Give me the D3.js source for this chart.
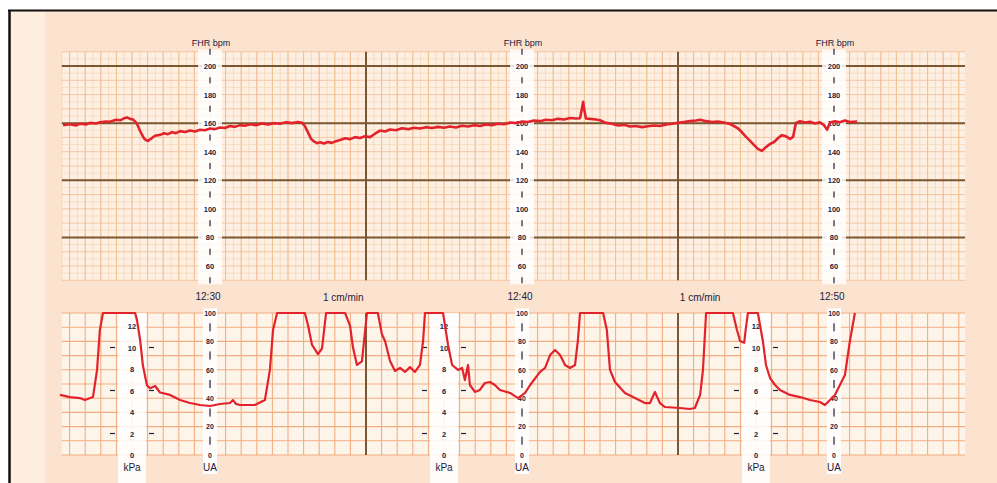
<!DOCTYPE html>
<html>
<head>
<meta charset="utf-8">
<script src="https://cdn.jsdelivr.net/npm/d3@7"></script>
<style>
  body { margin: 0; background: #fff; }
  svg text { font-family: "Liberation Sans", Arial, sans-serif; }
</style>
</head>
<body>
<div id="viz"></div>
<script>
var width = 997,
    height = 483;

// FHR trace: minutes after 12:30, beats per minute
var fhrTime = [-4.71, -4.49, -4.29, -4.17, -3.97, -3.85, -3.65, -3.53, -3.33, -3.21, -3.01, -2.88, -2.76, -2.66, -2.56, -2.47,
    -2.37, -2.31, -2.24, -2.18, -2.12, -2.05, -1.99, -1.92, -1.83, -1.73, -1.60, -1.47, -1.35, -1.22, -1.09, -0.96,
    -0.80, -0.64, -0.48, -0.32, -0.16, 0, 0.16, 0.32, 0.48, 0.64, 0.80, 0.96, 1.12, 1.28, 1.47, 1.67,
    1.86, 2.05, 2.24, 2.44, 2.63, 2.82, 2.95, 3.04, 3.14, 3.24, 3.33, 3.43, 3.53, 3.65, 3.78, 3.91,
    4.04, 4.17, 4.33, 4.49, 4.65, 4.81, 4.97, 5.13, 5.29, 5.45, 5.61, 5.77, 5.96, 6.15, 6.35, 6.54,
    6.73, 6.92, 7.12, 7.31, 7.50, 7.69, 7.88, 8.08, 8.27, 8.46, 8.65, 8.85, 9.04, 9.23, 9.42, 9.62,
    9.81, 10.00, 10.19, 10.38, 10.58, 10.77, 10.96, 11.15, 11.35, 11.54, 11.73, 11.86, 11.92, 11.96, 11.99, 12.05,
    12.18, 12.37, 12.50, 12.69, 12.88, 13.08, 13.27, 13.46, 13.65, 13.85, 14.04, 14.23, 14.42, 14.62, 14.81, 15.00,
    15.19, 15.38, 15.58, 15.71, 15.90, 16.09, 16.28, 16.47, 16.67, 16.79, 16.92, 17.05, 17.18, 17.31, 17.44, 17.56,
    17.69, 17.82, 17.95, 18.08, 18.21, 18.33, 18.46, 18.59, 18.69, 18.78, 18.91, 19.07, 19.23, 19.39, 19.55, 19.68,
    19.78, 19.87, 20.03, 20.19, 20.35, 20.51, 20.74];
var fhrBpm = [158.5, 159.2, 158.4, 159.6, 159.0, 160.2, 159.8, 160.6, 161.2, 161.0, 162.4, 162.0, 163.4, 164.0, 163.0, 162.6,
    160.5, 158.0, 154.5, 152.0, 149.5, 148.0, 147.6, 148.6, 150.2, 151.4, 151.8, 152.9, 152.3, 153.6, 153.0, 154.4,
    153.8, 154.8, 154.2, 155.4, 155.0, 156.2, 155.8, 157.0, 156.6, 158.0, 157.4, 158.6, 158.2, 159.2, 158.6, 159.8,
    159.0, 160.0, 159.6, 160.6, 160.0, 160.8, 160.2, 158.0, 153.5, 149.0, 147.2, 146.0, 146.6, 145.8, 146.8, 146.2,
    147.4, 148.2, 149.4, 148.8, 150.2, 149.6, 150.8, 150.2, 152.6, 154.8, 154.2, 155.6, 155.0, 156.4, 155.8, 156.8,
    156.2, 157.2, 156.6, 157.4, 156.8, 157.6, 157.0, 158.2, 157.6, 158.6, 158.0, 159.0, 158.6, 159.6, 159.2, 160.4,
    160.0, 161.2, 160.8, 161.8, 161.4, 162.4, 162.0, 163.0, 162.6, 163.6, 163.2, 163.4, 170.0, 175.0, 170.0, 163.2,
    163.0, 162.6, 162.0, 160.2, 159.6, 158.4, 158.8, 157.6, 158.0, 157.2, 157.8, 158.4, 158.0, 159.0, 159.6, 160.2,
    160.8, 161.4, 161.8, 162.4, 161.4, 160.8, 161.2, 160.4, 159.4, 158.0, 156.4, 153.6, 150.4, 147.6, 144.6, 142.0,
    140.6, 143.2, 145.4, 146.8, 149.6, 151.6, 150.8, 149.0, 150.4, 160.2, 161.4, 160.4, 161.0, 159.8, 160.6, 158.6,
    155.4, 160.4, 161.4, 160.6, 161.8, 160.8, 161.2];

// uterine activity trace: minutes after 12:30, UA units
var uaTime = [-4.81, -4.49, -4.17, -4.01, -3.75, -3.62, -3.53, -3.43, -2.40, -2.34, -2.24, -2.15, -2.02, -1.92, -1.76, -1.60,
    -1.28, -0.96, -0.64, -0.32, 0, 0.32, 0.64, 0.74, 0.83, 0.96, 1.44, 1.76, 1.92, 2.02, 2.15, 3.04,
    3.14, 3.27, 3.46, 3.59, 3.72, 4.33, 4.49, 4.58, 4.71, 4.87, 5.03, 5.38, 5.51, 5.61, 5.77, 5.93,
    6.09, 6.25, 6.41, 6.57, 6.73, 6.83, 6.89, 7.47, 7.53, 7.63, 7.76, 7.95, 8.08, 8.17, 8.27, 8.33,
    8.49, 8.65, 8.81, 8.97, 9.13, 9.29, 9.62, 9.87, 10.10, 10.26, 10.58, 10.74, 10.90, 11.06, 11.22, 11.38,
    11.54, 11.70, 11.79, 11.86, 12.60, 12.72, 12.82, 12.98, 13.30, 13.62, 13.94, 14.10, 14.26, 14.42, 14.58, 15.06,
    15.38, 15.54, 15.71, 15.80, 15.90, 16.76, 16.89, 16.99, 17.12, 17.18, 17.24, 17.56, 17.72, 17.82, 17.95, 18.11,
    18.27, 18.59, 18.91, 19.23, 19.55, 19.71, 19.87, 20.03, 20.19, 20.35, 20.51, 20.67];
var uaValue = [42.3, 40.8, 40.1, 38.7, 40.8, 59.9, 88, 100, 100, 95, 81, 63, 49, 47, 48.6, 44,
    42.3, 38.7, 36.6, 35.2, 34.5, 35.9, 36.6, 38.7, 36.0, 35.2, 35.2, 38.7, 59.9, 88, 100, 100,
    91.5, 77.5, 71.1, 75, 100, 100, 91, 76, 63.4, 66, 100, 100, 85, 80.3, 66.2, 59.2,
    61.3, 58.5, 61.9, 58.5, 63.4, 80.3, 100, 100, 91.5, 77.5, 63.4, 59.9, 61.3, 52.8, 63.4, 49.3,
    44.4, 45.8, 50.7, 51.4, 49.3, 45.8, 43.7, 40.1, 43.7, 49.3, 58.5, 61.3, 70.4, 73.9, 70.4, 63.4,
    61.3, 63.4, 80.3, 100, 100, 88, 59.9, 51.4, 43.7, 40.1, 36.6, 36.6, 44.4, 36.6, 33.8, 33.1,
    32.4, 33.1, 42.3, 59.9, 100, 100, 88, 80.3, 79, 90, 100, 100, 80.3, 63.4, 54.2, 49.3,
    45.8, 42.3, 40.8, 38.7, 37.3, 35.2, 38.7, 42.3, 49.3, 56.3, 80.3, 100];

var fhrTicks = [200, 180, 160, 140, 120, 100, 80, 60];
var fhrSmallTicks = [210, 190, 170, 150, 130, 110, 90, 70, 50];
var fhrBoldLines = [200, 160, 120, 80];
var uaTicks = [100, 80, 60, 40, 20, 0];
var uaSmallTicks = [90, 70, 50, 30, 10];
var kpaTicks = [12, 10, 8, 6, 4, 2, 0];
var kpaDashTicks = [10, 6, 2];
var axisTimes = [0, 10, 20];
var timeLabels = ["12:30", "12:40", "12:50"];
var kpaAxisTimes = [-2.5, 7.5, 17.5];
var markerTimes = [5, 15];
var speedLabelTimes = [3.62, 15.06];

var gridStart = -4.75, gridEnd = 24.2;

var x = d3.scaleLinear().domain([0, 20]).range([210, 834]);
var yF = d3.scaleLinear().domain([60, 200]).range([266, 66]);
var yU = d3.scaleLinear().domain([0, 100]).range([455, 313]);
var yK = d3.scaleLinear().domain([0, 12]).range([455, 326]);

var ink = "#1c2140";

var svg = d3.select("#viz").append("svg")
    .attr("width", width)
    .attr("height", height);

// paper
svg.append("rect").attr("x", 9).attr("y", 10)
    .attr("width", width - 9).attr("height", height - 10)
    .attr("fill", "#fbe3cf");
svg.append("rect").attr("x", 11).attr("y", 12)
    .attr("width", 34).attr("height", height - 12)
    .attr("fill", "#fdeee0");

// frame
svg.append("line").attr("x1", 8).attr("x2", width).attr("y1", 10.5).attr("y2", 10.5)
    .attr("stroke", "#111").attr("stroke-width", 2);
svg.append("line").attr("x1", 9.5).attr("x2", 9.5).attr("y1", 10).attr("y2", height)
    .attr("stroke", "#111").attr("stroke-width", 2.5);

var halfMinutes = d3.range(Math.ceil(gridStart * 2), Math.floor(gridEnd * 2) + 1).map(function(i) { return i / 2; });
var quarterMinutes = d3.range(Math.ceil(gridStart * 4), Math.floor(gridEnd * 4) + 1).map(function(i) { return i / 4; });

// ---- FHR grid ----
var gF = svg.append("g").attr("class", "fhr-grid");
gF.append("rect")
    .attr("x", x(gridStart)).attr("y", yF(210))
    .attr("width", x(gridEnd) - x(gridStart)).attr("height", yF(50) - yF(210))
    .attr("fill", "#fdf0e3");

gF.selectAll("line.vfine").data(quarterMinutes).enter().append("line")
    .attr("x1", function(d) { return x(d); }).attr("x2", function(d) { return x(d); })
    .attr("y1", yF(210)).attr("y2", yF(50))
    .attr("stroke", "#f7d3b5").attr("stroke-width", 0.8);
gF.selectAll("line.hfine").data(d3.range(50, 211, 5)).enter().append("line")
    .attr("x1", x(gridStart)).attr("x2", x(gridEnd))
    .attr("y1", function(d) { return yF(d); }).attr("y2", function(d) { return yF(d); })
    .attr("stroke", function(d) { return d % 10 === 0 ? "#f2bb93" : "#f8d8bd"; })
    .attr("stroke-width", 0.8);
gF.selectAll("line.vmed").data(halfMinutes).enter().append("line")
    .attr("x1", function(d) { return x(d); }).attr("x2", function(d) { return x(d); })
    .attr("y1", yF(210)).attr("y2", yF(50))
    .attr("stroke", function(d) { return d % 1 === 0 ? "#efc38a" : "#f2bb93"; })
    .attr("stroke-width", 1);
gF.selectAll("line.hbold").data(fhrBoldLines).enter().append("line")
    .attr("x1", x(gridStart)).attr("x2", x(gridEnd))
    .attr("y1", function(d) { return yF(d); }).attr("y2", function(d) { return yF(d); })
    .attr("stroke", "#7a5633").attr("stroke-width", 2);

// ---- UA grid ----
var gU = svg.append("g").attr("class", "ua-grid");
gU.append("rect")
    .attr("x", x(gridStart)).attr("y", yU(100))
    .attr("width", x(gridEnd) - x(gridStart)).attr("height", yU(0) - yU(100))
    .attr("fill", "#fef5ea");
gU.selectAll("line.h").data(d3.range(0, 101, 10)).enter().append("line")
    .attr("x1", x(gridStart)).attr("x2", x(gridEnd))
    .attr("y1", function(d) { return yU(d); }).attr("y2", function(d) { return yU(d); })
    .attr("stroke", "#f3ad80").attr("stroke-width", 1.1);
gU.selectAll("line.v").data(halfMinutes).enter().append("line")
    .attr("x1", function(d) { return x(d); }).attr("x2", function(d) { return x(d); })
    .attr("y1", yU(100)).attr("y2", yU(0))
    .attr("stroke", "#f3ad80").attr("stroke-width", 1.1);

// 5-minute markers across both panels
markerTimes.forEach(function(t) {
    svg.append("line")
        .attr("x1", x(t)).attr("x2", x(t)).attr("y1", yF(210)).attr("y2", yF(50))
        .attr("stroke", "#7a5633").attr("stroke-width", 2);
    svg.append("line")
        .attr("x1", x(t)).attr("x2", x(t)).attr("y1", yU(100)).attr("y2", yU(0))
        .attr("stroke", "#7a5633").attr("stroke-width", 2);
});

// ---- axis strips ----
axisTimes.forEach(function(t, i) {
    var cx = x(t);
    var a = svg.append("g").attr("class", "fhr-axis");
    a.append("rect").attr("x", cx - 12).attr("y", yF(210) - 2)
        .attr("width", 24).attr("height", yF(50) - yF(210) + 6)
        .attr("fill", "#fff").attr("opacity", 0.82);
    a.append("text").attr("x", cx + 1).attr("y", 46)
        .attr("text-anchor", "middle").attr("font-size", 9).attr("fill", ink)
        .text("FHR bpm");
    a.selectAll("line.tk").data(fhrSmallTicks).enter().append("line")
        .attr("x1", cx).attr("x2", cx)
        .attr("y1", function(d) { return yF(d) - 3; }).attr("y2", function(d) { return yF(d) + 3; })
        .attr("stroke", ink).attr("stroke-width", 1.2);
    var lab = a.selectAll("g.lab").data(fhrTicks).enter().append("g")
        .attr("transform", function(d) { return "translate(" + cx + "," + yF(d) + ")"; });
    lab.append("rect").attr("x", -8).attr("y", -5).attr("width", 16).attr("height", 10).attr("fill", "#fff");
    lab.append("text").attr("y", 3).attr("text-anchor", "middle")
        .attr("font-size", 7.5).attr("font-weight", "bold").attr("fill", ink)
        .text(function(d) { return d; });

    // UA axis
    var u = svg.append("g").attr("class", "ua-axis");
    u.append("rect").attr("x", cx - 7).attr("y", yU(100) - 4)
        .attr("width", 14).attr("height", 165)
        .attr("fill", "#fff").attr("opacity", 0.85);
    u.append("text").attr("x", cx - 2).attr("y", 300)
        .attr("text-anchor", "middle").attr("font-size", 10).attr("fill", ink)
        .text(timeLabels[i]);
    u.selectAll("line.tk").data(uaSmallTicks).enter().append("line")
        .attr("x1", cx).attr("x2", cx)
        .attr("y1", function(d) { return yU(d) - 4; }).attr("y2", function(d) { return yU(d) + 4; })
        .attr("stroke", ink).attr("stroke-width", 1.2);
    var ul = u.selectAll("g.lab").data(uaTicks).enter().append("g")
        .attr("transform", function(d) { return "translate(" + cx + "," + yU(d) + ")"; });
    ul.append("rect").attr("x", -7).attr("y", -4.5).attr("width", 14).attr("height", 9).attr("fill", "#fff");
    ul.append("text").attr("y", 2.8).attr("text-anchor", "middle")
        .attr("font-size", 7).attr("font-weight", "bold").attr("fill", ink)
        .text(function(d) { return d; });
    u.append("text").attr("x", cx).attr("y", 471)
        .attr("text-anchor", "middle").attr("font-size", 10).attr("fill", ink)
        .text("UA");
});

kpaAxisTimes.forEach(function(t) {
    var cx = x(t);
    var k = svg.append("g").attr("class", "kpa-axis");
    k.append("rect").attr("x", cx - 14).attr("y", yU(100))
        .attr("width", 28).attr("height", 170)
        .attr("fill", "#fff").attr("opacity", 0.85);
    k.selectAll("text.lab").data(kpaTicks).enter().append("text")
        .attr("x", cx).attr("y", function(d) { return yK(d) + 3; })
        .attr("text-anchor", "middle").attr("font-size", 7.5).attr("font-weight", "bold").attr("fill", ink)
        .text(function(d) { return d; });
    k.selectAll("line.l").data(kpaDashTicks).enter().append("line")
        .attr("x1", cx - 22).attr("x2", cx - 17)
        .attr("y1", function(d) { return yK(d); }).attr("y2", function(d) { return yK(d); })
        .attr("stroke", ink).attr("stroke-width", 1.2);
    k.selectAll("line.r").data(kpaDashTicks).enter().append("line")
        .attr("x1", cx + 17).attr("x2", cx + 22)
        .attr("y1", function(d) { return yK(d); }).attr("y2", function(d) { return yK(d); })
        .attr("stroke", ink).attr("stroke-width", 1.2);
    k.append("text").attr("x", cx).attr("y", 471)
        .attr("text-anchor", "middle").attr("font-size", 10).attr("fill", ink)
        .text("kPa");
});

speedLabelTimes.forEach(function(t) {
    svg.append("text").attr("x", x(t)).attr("y", 301)
        .attr("font-size", 10).attr("fill", ink)
        .text("1 cm/min");
});

// ---- traces ----
var fhrData = d3.zip(fhrTime, fhrBpm);
var uaData = d3.zip(uaTime, uaValue);

svg.append("path")
    .datum(fhrData)
    .attr("fill", "none")
    .attr("stroke", "#e3232b")
    .attr("stroke-width", 2.6)
    .attr("stroke-linejoin", "round")
    .attr("d", d3.line().x(function(d) { return x(d[0]); }).y(function(d) { return yF(d[1]); }));

svg.append("path")
    .datum(uaData)
    .attr("fill", "none")
    .attr("stroke", "#e3232b")
    .attr("stroke-width", 2.2)
    .attr("stroke-linejoin", "round")
    .attr("d", d3.line().x(function(d) { return x(d[0]); }).y(function(d) { return yU(d[1]); }));
</script>
</body>
</html>
